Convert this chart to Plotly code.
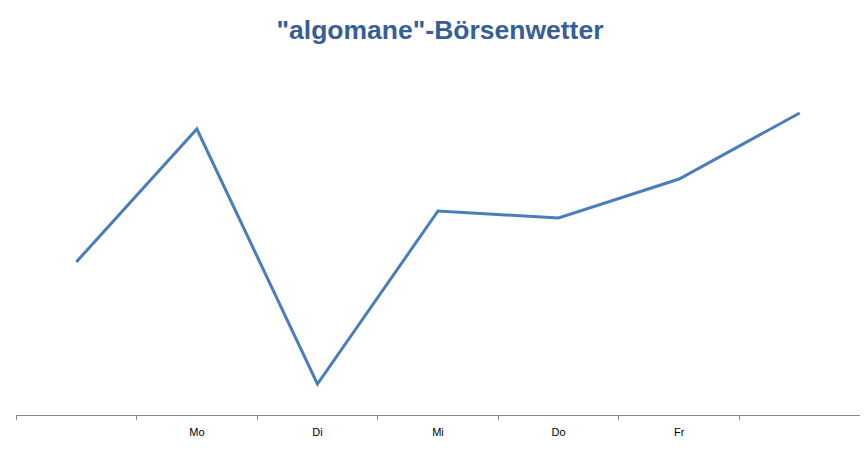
import plotly.graph_objects as go

# Wochentage (erste und letzte Kategorie ohne Beschriftung)
days = ["", "Mo", "Di", "Mi", "Do", "Fr", ""]
values = [153, 286, 31, 204, 197, 236, 302]

title_text = '"algomane"-Börsenwetter'

x_pos = list(range(len(days)))

fig = go.Figure()

fig.add_trace(go.Scatter(
    x=x_pos,
    y=values,
    mode='lines',
    line=dict(color='#4A7EBB', width=3),
    showlegend=False,
    hoverinfo='skip'
))

# Seite hat 8px Rand, daher Figur etwas kleiner
fig.update_layout(
    width=860,
    height=445,
    margin=dict(l=8, r=8, t=75, b=38),
    paper_bgcolor='white',
    plot_bgcolor='white',
    title=dict(
        text=title_text,
        x=432 / 860,
        xanchor='center',
        y=1 - 22 / 445,
        yanchor='middle',
        yref='container',
        font=dict(family='Liberation Sans, Arial', size=26.5, color='#365F97', weight='bold')
    ),
    xaxis=dict(
        range=[-0.5, len(days) - 0.5],
        tickvals=x_pos,
        ticktext=days,
        ticks='',
        ticklabelstandoff=7,
        showgrid=False,
        zeroline=False,
        showline=True,
        linecolor='#868686',
        linewidth=1,
        tickfont=dict(family='Liberation Sans, Arial', size=11, color='#000000'),
        minor=dict(tick0=-0.5, dtick=1, ticks='outside', ticklen=4,
                   tickcolor='#868686', showgrid=False),
    ),
    yaxis=dict(
        range=[0, 332],
        visible=False,
        showgrid=False,
        zeroline=False,
    ),
)

fig.write_html("out.html")
